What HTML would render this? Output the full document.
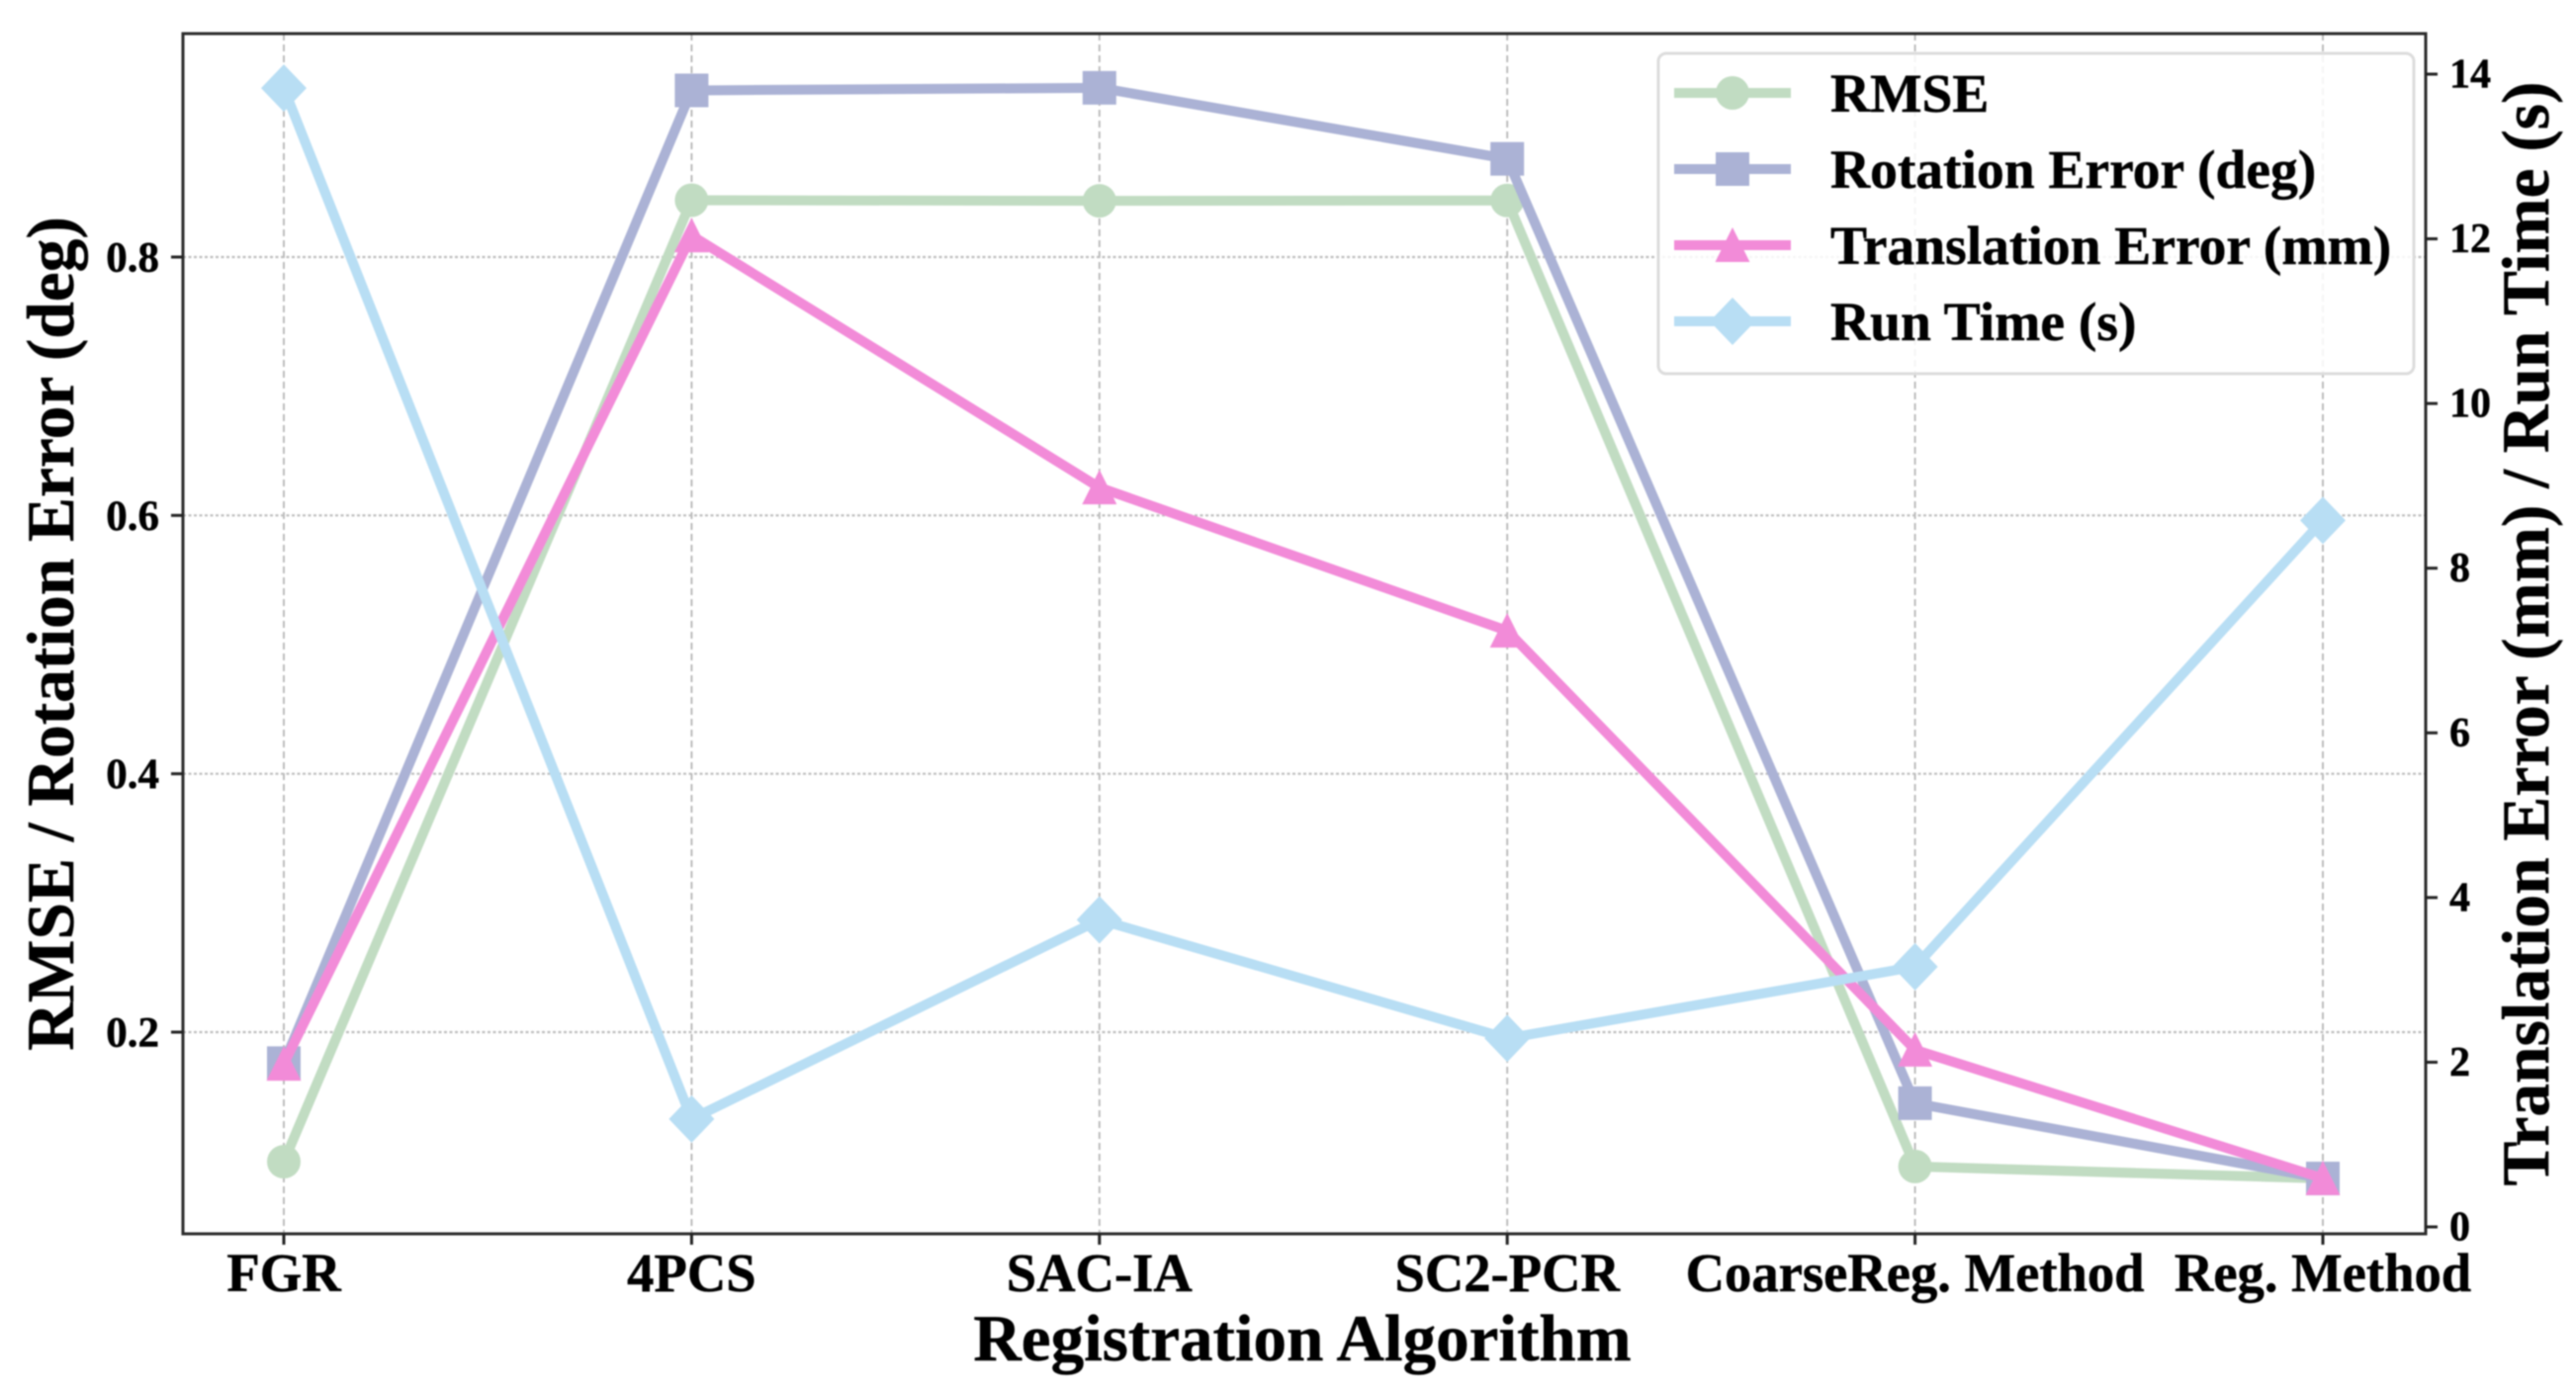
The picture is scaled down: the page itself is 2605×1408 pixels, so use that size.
<!DOCTYPE html>
<html><head><meta charset="utf-8"><title>Registration Algorithm Comparison</title>
<style>
html,body{margin:0;padding:0;background:#fff}
svg{display:block;filter:blur(0.9px)}
text{font-family:"Liberation Serif",serif;font-weight:bold;fill:#000;stroke:#000;stroke-width:0.5px}
</style></head>
<body>
<svg id="chart" width="2605" height="1408" viewBox="0 0 2605 1408" xmlns="http://www.w3.org/2000/svg">
<rect x="0" y="0" width="2605" height="1408" fill="#fff"/>
<g id="grid"></g>
<g id="series"></g>
<g id="axes"></g>
<text x="1317" y="1376" font-size="67.1" text-anchor="middle">Registration Algorithm</text>
<text transform="translate(74,641) rotate(-90)" font-size="67.4" text-anchor="middle">RMSE / Rotation Error (deg)</text>
<text transform="translate(2577,641) rotate(-90)" font-size="67.4" text-anchor="middle">Translation Error (mm) / Run Time (s)</text>
<g id="legend"></g>
</svg>
<script>
const categories = ["FGR","4PCS","SAC-IA","SC2-PCR","CoarseReg. Method","Reg. Method"];
const rmseValues = [0.0997,0.844,0.8435,0.8438,0.096,0.0867];
const rotationValues = [0.176,0.929,0.931,0.876,0.145,0.0867];
const translationValues = [1.98,12.04,8.98,7.24,2.15,0.59];
const runTimeValues = [13.83,1.31,3.73,2.29,3.16,8.58];
const leftTicks = [0.2,0.4,0.6,0.8];
const rightTicks = [0,2,4,6,8,10,12,14];
const seriesNames = ["RMSE","Rotation Error (deg)","Translation Error (mm)","Run Time (s)"];

const NS = "http://www.w3.org/2000/svg";
const plotLeft = 185, plotRight = 2453, plotTop = 34, plotBottom = 1248;
function xScale(i){ return 287 + i * (2349 - 287) / (categories.length - 1); }
function yLeft(v){ return 1044 - (v - 0.2) * (1044 - 260) / 0.6; }
function yRight(v){ return 1241 - v * (1241 - 75) / 14; }
function make(tag, attrs, parent){
  const e = document.createElementNS(NS, tag);
  for (const k in attrs) e.setAttribute(k, attrs[k]);
  parent.appendChild(e);
  return e;
}
function marker(kind, x, y, color, parent){
  if (kind === "circle") return make("circle",{cx:x,cy:y,r:17,fill:color},parent);
  if (kind === "square") return make("rect",{x:x-17,y:y-17,width:34,height:34,fill:color},parent);
  if (kind === "triangle") return make("polygon",{points:`${x},${y-18} ${x+17.5},${y+17} ${x-17.5},${y+17}`,fill:color},parent);
  return make("polygon",{points:`${x},${y-24} ${x+23},${y} ${x},${y+24} ${x-23},${y}`,fill:color},parent);
}

const gridG = document.getElementById("grid");
const seriesG = document.getElementById("series");
const axesG = document.getElementById("axes");
const legendG = document.getElementById("legend");

categories.forEach((c,i)=>{
  const g = make("line",{x1:xScale(i),x2:xScale(i),y1:plotTop,y2:plotBottom,stroke:"#b5b5b5","stroke-width":1.8,"stroke-dasharray":"7 4"},gridG);
  
  
});
leftTicks.forEach(v=>{
  const g = make("line",{x1:plotLeft,x2:plotRight,y1:yLeft(v),y2:yLeft(v),stroke:"#bdbdbd","stroke-width":2.2,"stroke-dasharray":"3 2.5"},gridG);
  
  
});

const seriesDefs = [
  {values:rmseValues,scale:yLeft,color:"#c1dcc2",kind:"circle"},
  {values:rotationValues,scale:yLeft,color:"#abb2d5",kind:"square"},
  {values:translationValues,scale:yRight,color:"#f28bd8",kind:"triangle"},
  {values:runTimeValues,scale:yRight,color:"#b8def4",kind:"diamond"}
];
seriesDefs.forEach((s,si)=>{
  const g = make("g",{},seriesG);
  
  
  const pts = s.values.map((v,i)=>xScale(i)+","+s.scale(v)).join(" ");
  make("polyline",{points:pts,fill:"none",stroke:s.color,"stroke-width":10,"stroke-linejoin":"round"},g);
  s.values.forEach((v,i)=>{
    const m = marker(s.kind,xScale(i),s.scale(v),s.color,g);
    
    
  });
});

const frame = make("rect",{x:plotLeft,y:plotTop,width:plotRight-plotLeft,height:plotBottom-plotTop,fill:"none",stroke:"#2a2a2a","stroke-width":3},axesG);



categories.forEach((c,i)=>{
  make("line",{x1:xScale(i),x2:xScale(i),y1:plotBottom,y2:plotBottom+11,stroke:"#222","stroke-width":3},axesG);
  const t = make("text",{x:xScale(i),y:1306,"font-size":54.6,"text-anchor":"middle"},axesG);
  
  
  t.textContent = c;
});
leftTicks.forEach(v=>{
  const y = yLeft(v);
  make("line",{x1:plotLeft-12,x2:plotLeft,y1:y,y2:y,stroke:"#222","stroke-width":3},axesG);
  const t = make("text",{x:161,y:y+14.5,"font-size":43,"text-anchor":"end"},axesG);
  
  
  t.textContent = v.toFixed(1);
});
rightTicks.forEach(v=>{
  const y = yRight(v);
  make("line",{x1:plotRight,x2:plotRight+12,y1:y,y2:y,stroke:"#222","stroke-width":3},axesG);
  const t = make("text",{x:2477,y:y+13.5,"font-size":42},axesG);
  
  
  t.textContent = String(v);
});

const legendBox = make("rect",{x:1677,y:54,width:764,height:324,rx:8,ry:8,fill:"#fff","fill-opacity":0.85,stroke:"#dcdcdc","stroke-width":3},legendG);


seriesNames.forEach((name,i)=>{
  const y = 94 + i * 77;
  const s = seriesDefs[i];
  const g = make("g",{},legendG);
  
  
  make("line",{x1:1693,x2:1811,y1:y,y2:y,stroke:s.color,"stroke-width":10},g);
  marker(s.kind,1752,y,s.color,g);
  const t = make("text",{x:1851,y:y+19,"font-size":55.5},g);
  t.textContent = name;
});
</script>
</body></html>
